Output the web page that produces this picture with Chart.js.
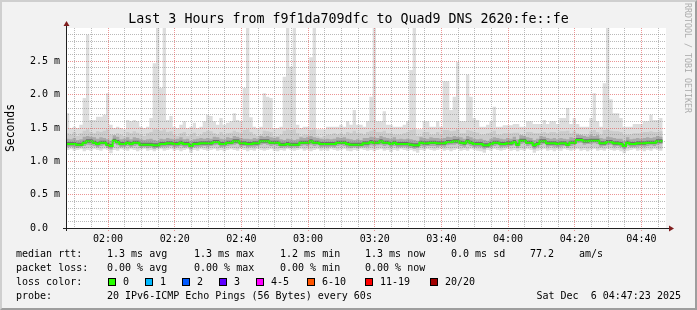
<!DOCTYPE html>
<html><head><meta charset="utf-8">
<script src="https://cdn.jsdelivr.net/npm/chart.js@4.4.1/dist/chart.umd.min.js"></script>
<style>
html,body{margin:0;padding:0;background:#f2f2f2;}
#wrap{position:relative;width:697px;height:310px;overflow:hidden;background:#f2f2f2;font-family:"DejaVu Sans Mono",monospace;color:#000;}
#c{position:absolute;left:0;top:0;}
#title{position:absolute;left:0;top:11px;width:697px;text-align:center;font-size:13.3px;line-height:16px;white-space:pre;}
#ylab{position:absolute;left:-25px;top:121px;width:70px;height:14px;line-height:14px;text-align:center;font-size:11.4px;transform:rotate(-90deg);white-space:pre;}
#wm{position:absolute;left:628px;top:53px;width:120px;height:10px;line-height:10px;text-align:center;font-size:8.3px;color:#acacac;transform:rotate(90deg);white-space:pre;}
.t{position:absolute;white-space:pre;font-size:10px;line-height:12px;height:12px;}
.box{position:absolute;width:8px;height:8px;box-sizing:border-box;border:1px solid #000;}
#frame{position:absolute;left:0;top:0;width:697px;height:310px;box-sizing:border-box;border:2px solid;border-color:#cfcfcf #9e9e9e #9e9e9e #cfcfcf;pointer-events:none;}
</style></head><body>
<div id="wrap">
<canvas id="c" width="697" height="310"></canvas>
<div id="title">Last 3 Hours from f9f1da709dfc to Quad9 DNS 2620:fe::fe</div>
<div id="ylab">Seconds</div>
<div id="wm">RRDTOOL / TOBI OETIKER</div>
<div id="legend"></div>
<div id="frame"></div>
</div>
<script>
// ---- data (milliseconds), one value per minute starting 01:47:23 ----
const windowStartMin = -(12 + 37/60);   // 01:47:23 relative to 02:00
const windowEndMin = 167 + 23/60;       // 04:47:23 relative to 02:00
const stepMin = 1;

const medianRtt = [
1.26,1.26,1.26,1.25,1.25,1.28,1.30,1.30,1.28,1.26,
1.28,1.28,1.25,1.23,1.31,1.29,1.26,1.26,1.28,1.26,
1.28,1.28,1.25,1.25,1.25,1.25,1.24,1.24,1.26,1.26,
1.27,1.27,1.26,1.26,1.28,1.26,1.26,1.23,1.26,1.26,
1.27,1.27,1.27,1.27,1.29,1.29,1.26,1.26,1.28,1.28,
1.30,1.30,1.27,1.27,1.26,1.26,1.27,1.27,1.30,1.30,
1.30,1.28,1.28,1.28,1.25,1.25,1.26,1.25,1.25,1.25,
1.28,1.28,1.28,1.30,1.28,1.28,1.26,1.26,1.26,1.26,
1.26,1.28,1.28,1.28,1.26,1.25,1.25,1.25,1.25,1.27,
1.27,1.29,1.28,1.28,1.30,1.28,1.28,1.26,1.28,1.26,
1.26,1.26,1.26,1.25,1.24,1.24,1.28,1.27,1.27,1.28,
1.28,1.27,1.27,1.27,1.29,1.29,1.30,1.30,1.28,1.27,
1.30,1.28,1.26,1.26,1.26,1.24,1.24,1.26,1.28,1.28,
1.26,1.26,1.27,1.27,1.29,1.25,1.31,1.31,1.28,1.28,
1.24,1.26,1.30,1.30,1.27,1.27,1.27,1.26,1.27,1.27,
1.25,1.28,1.28,1.32,1.32,1.30,1.30,1.31,1.31,1.31,
1.27,1.27,1.29,1.29,1.27,1.27,1.26,1.23,1.28,1.26,
1.26,1.27,1.27,1.27,1.28,1.28,1.28,1.30,1.30];

const maxRtt = [
1.72,1.50,1.52,1.50,1.55,1.95,2.90,1.62,1.62,1.67,
1.67,1.70,2.02,1.55,1.50,1.52,1.50,1.48,1.62,1.60,
1.62,1.60,1.52,1.50,1.52,1.65,2.47,3.10,2.10,3.10,
1.62,1.68,1.52,1.50,1.55,1.60,1.50,1.52,1.58,1.50,
1.52,1.60,1.70,1.68,1.60,1.55,1.65,1.55,1.58,1.60,
1.72,1.62,1.60,2.10,3.10,1.66,1.52,1.50,1.52,2.02,
1.97,1.95,1.50,1.50,1.52,2.27,3.10,2.42,3.10,1.55,
1.50,1.52,1.52,2.56,3.10,1.48,1.48,1.48,1.52,1.52,
1.52,1.52,1.55,1.52,1.60,1.55,1.77,1.55,1.55,1.52,
1.60,1.97,3.10,1.60,1.60,1.75,1.55,1.55,1.52,1.52,
1.52,1.55,1.60,2.37,3.10,1.48,1.48,1.60,1.60,1.52,
1.52,1.60,1.52,2.20,2.20,1.77,1.97,2.49,1.60,1.60,
2.30,1.97,1.65,1.62,1.52,1.52,1.55,1.60,1.82,1.52,
1.52,1.54,1.54,1.54,1.56,1.56,1.52,1.52,1.60,1.60,
1.56,1.56,1.56,1.62,1.56,1.60,1.60,1.56,1.65,1.65,
1.80,1.56,1.65,1.56,1.52,1.52,1.52,1.65,2.02,1.60,
1.52,2.17,3.00,1.93,1.72,1.72,1.65,1.52,1.52,1.52,
1.56,1.56,1.56,1.60,1.60,1.70,1.62,1.62,1.65];

const minRtt = [
1.17,1.18,1.16,1.17,1.18,1.15,1.17,1.16,1.18,1.17,
1.16,1.18,1.17,1.12,1.17,1.16,1.18,1.17,1.16,1.18,
1.17,1.15,1.17,1.18,1.16,1.17,1.15,1.17,1.18,1.16,
1.17,1.18,1.16,1.17,1.15,1.17,1.18,1.13,1.17,1.16,
1.18,1.17,1.16,1.17,1.18,1.16,1.17,1.15,1.17,1.18,
1.17,1.16,1.18,1.17,1.15,1.17,1.16,1.18,1.17,1.16,
1.17,1.18,1.16,1.15,1.17,1.16,1.18,1.17,1.16,1.17,
1.18,1.16,1.17,1.15,1.17,1.18,1.16,1.17,1.16,1.18,
1.17,1.16,1.17,1.18,1.16,1.15,1.17,1.16,1.18,1.17,
1.16,1.17,1.15,1.17,1.18,1.16,1.17,1.14,1.17,1.16,
1.18,1.17,1.16,1.17,1.15,1.13,1.17,1.16,1.18,1.17,
1.16,1.17,1.18,1.16,1.17,1.15,1.17,1.18,1.16,1.17,
1.16,1.18,1.17,1.16,1.15,1.13,1.17,1.16,1.18,1.17,
1.16,1.17,1.18,1.16,1.17,1.15,1.17,1.16,1.18,1.17,
1.13,1.16,1.17,1.18,1.16,1.17,1.15,1.17,1.16,1.18,
1.17,1.16,1.17,1.18,1.16,1.17,1.15,1.17,1.18,1.16,
1.17,1.16,1.18,1.17,1.16,1.17,1.15,1.12,1.16,1.17,
1.18,1.16,1.17,1.15,1.17,1.16,1.18,1.17,1.16];

const upperSmoke = [
1.42,1.40,1.44,1.38,1.42,1.46,1.48,1.44,1.42,1.45,
1.44,1.46,1.48,1.40,1.38,1.42,1.40,1.38,1.44,1.42,
1.45,1.43,1.40,1.38,1.42,1.44,1.48,1.48,1.46,1.48,
1.44,1.45,1.40,1.38,1.42,1.44,1.38,1.40,1.43,1.38,
1.40,1.44,1.46,1.45,1.42,1.40,1.44,1.40,1.42,1.43,
1.46,1.44,1.42,1.47,1.48,1.44,1.40,1.38,1.40,1.46,
1.45,1.44,1.38,1.38,1.40,1.46,1.48,1.47,1.48,1.42,
1.38,1.40,1.40,1.47,1.48,1.38,1.36,1.38,1.40,1.40,
1.42,1.40,1.42,1.40,1.44,1.42,1.46,1.42,1.42,1.40,
1.44,1.46,1.48,1.44,1.44,1.46,1.42,1.42,1.40,1.40,
1.40,1.42,1.44,1.47,1.48,1.38,1.38,1.44,1.44,1.40,
1.40,1.44,1.40,1.47,1.47,1.45,1.46,1.48,1.42,1.42,
1.47,1.46,1.44,1.43,1.40,1.40,1.42,1.43,1.46,1.40,
1.40,1.42,1.42,1.42,1.43,1.43,1.40,1.40,1.44,1.44,
1.42,1.42,1.42,1.44,1.42,1.44,1.44,1.42,1.45,1.45,
1.46,1.42,1.45,1.42,1.40,1.40,1.40,1.45,1.47,1.44,
1.40,1.47,1.48,1.46,1.45,1.45,1.44,1.40,1.40,1.40,
1.42,1.42,1.42,1.44,1.44,1.45,1.44,1.44,1.45];

const lowerSmoke = [
1.20,1.21,1.19,1.20,1.21,1.19,1.20,1.20,1.21,1.20,
1.19,1.21,1.20,1.17,1.20,1.19,1.21,1.20,1.19,1.21,
1.20,1.19,1.20,1.21,1.19,1.20,1.18,1.20,1.21,1.19,
1.20,1.21,1.19,1.20,1.19,1.20,1.21,1.17,1.20,1.19,
1.21,1.20,1.19,1.20,1.21,1.19,1.20,1.19,1.20,1.21,
1.20,1.19,1.21,1.20,1.19,1.20,1.19,1.21,1.20,1.19,
1.20,1.21,1.19,1.19,1.20,1.19,1.21,1.20,1.19,1.20,
1.21,1.19,1.20,1.19,1.20,1.21,1.19,1.20,1.19,1.21,
1.20,1.19,1.20,1.21,1.19,1.19,1.20,1.19,1.21,1.20,
1.19,1.20,1.19,1.20,1.21,1.19,1.20,1.18,1.20,1.19,
1.21,1.20,1.19,1.20,1.19,1.17,1.20,1.19,1.21,1.20,
1.19,1.20,1.21,1.19,1.20,1.19,1.20,1.21,1.19,1.20,
1.19,1.21,1.20,1.19,1.19,1.17,1.20,1.19,1.21,1.20,
1.19,1.20,1.21,1.19,1.20,1.19,1.20,1.19,1.21,1.20,
1.17,1.19,1.20,1.21,1.19,1.20,1.19,1.20,1.19,1.21,
1.20,1.19,1.20,1.21,1.19,1.20,1.19,1.20,1.21,1.19,
1.20,1.19,1.21,1.20,1.19,1.20,1.19,1.17,1.19,1.20,
1.21,1.19,1.20,1.19,1.20,1.19,1.21,1.20,1.19];

const upperCore = [
1.34,1.33,1.35,1.32,1.33,1.37,1.38,1.37,1.36,1.34,
1.36,1.35,1.33,1.31,1.39,1.37,1.33,1.34,1.36,1.33,
1.36,1.35,1.33,1.32,1.33,1.34,1.32,1.31,1.34,1.33,
1.35,1.34,1.33,1.34,1.36,1.33,1.34,1.31,1.33,1.34,
1.35,1.34,1.35,1.34,1.37,1.36,1.34,1.33,1.36,1.35,
1.38,1.37,1.35,1.34,1.34,1.33,1.35,1.34,1.38,1.37,
1.38,1.36,1.35,1.36,1.33,1.32,1.34,1.33,1.32,1.33,
1.36,1.35,1.36,1.38,1.36,1.35,1.34,1.33,1.34,1.33,
1.34,1.36,1.35,1.36,1.34,1.33,1.32,1.33,1.32,1.35,
1.35,1.37,1.36,1.35,1.38,1.36,1.35,1.34,1.36,1.33,
1.34,1.33,1.34,1.33,1.32,1.31,1.36,1.35,1.34,1.36,
1.35,1.35,1.34,1.35,1.37,1.36,1.38,1.37,1.36,1.34,
1.38,1.36,1.34,1.33,1.34,1.32,1.31,1.34,1.36,1.35,
1.34,1.33,1.35,1.34,1.37,1.33,1.39,1.38,1.36,1.35,
1.32,1.34,1.38,1.37,1.35,1.34,1.35,1.33,1.35,1.34,
1.33,1.36,1.35,1.40,1.39,1.38,1.37,1.39,1.38,1.39,
1.35,1.34,1.37,1.36,1.35,1.34,1.34,1.31,1.36,1.33,
1.34,1.35,1.34,1.35,1.36,1.35,1.36,1.38,1.37];

const lowerCore = [
1.21,1.22,1.21,1.20,1.21,1.23,1.25,1.24,1.23,1.21,
1.23,1.24,1.20,1.18,1.26,1.24,1.21,1.22,1.23,1.21,
1.23,1.24,1.20,1.21,1.20,1.21,1.19,1.20,1.21,1.22,
1.22,1.23,1.21,1.22,1.23,1.21,1.22,1.18,1.21,1.22,
1.22,1.23,1.22,1.23,1.24,1.25,1.21,1.22,1.23,1.24,
1.25,1.26,1.22,1.23,1.21,1.22,1.22,1.23,1.25,1.26,
1.25,1.23,1.24,1.23,1.20,1.21,1.21,1.20,1.21,1.20,
1.23,1.24,1.23,1.25,1.23,1.24,1.21,1.22,1.21,1.22,
1.21,1.23,1.24,1.23,1.21,1.20,1.21,1.20,1.21,1.22,
1.22,1.24,1.23,1.24,1.25,1.23,1.24,1.21,1.23,1.21,
1.21,1.22,1.21,1.20,1.19,1.20,1.23,1.22,1.23,1.23,
1.23,1.22,1.23,1.22,1.24,1.25,1.25,1.26,1.23,1.22,
1.25,1.23,1.21,1.22,1.21,1.19,1.20,1.21,1.23,1.24,
1.21,1.22,1.22,1.23,1.24,1.20,1.26,1.27,1.23,1.24,
1.19,1.21,1.25,1.26,1.22,1.23,1.22,1.21,1.22,1.23,
1.20,1.23,1.24,1.27,1.28,1.25,1.26,1.26,1.27,1.26,
1.22,1.23,1.24,1.25,1.22,1.23,1.21,1.18,1.23,1.21,
1.21,1.22,1.23,1.22,1.23,1.24,1.23,1.25,1.26];

const upperInner = [
1.29,1.29,1.29,1.28,1.28,1.31,1.33,1.33,1.31,1.29,
1.31,1.31,1.28,1.26,1.34,1.32,1.29,1.29,1.31,1.29,
1.31,1.31,1.28,1.28,1.28,1.28,1.27,1.27,1.29,1.29,
1.30,1.30,1.29,1.29,1.31,1.29,1.29,1.26,1.29,1.29,
1.30,1.30,1.30,1.30,1.32,1.32,1.29,1.29,1.31,1.31,
1.33,1.33,1.30,1.30,1.29,1.29,1.30,1.30,1.33,1.33,
1.33,1.31,1.31,1.31,1.28,1.28,1.29,1.28,1.28,1.28,
1.31,1.31,1.31,1.33,1.31,1.31,1.29,1.29,1.29,1.29,
1.29,1.31,1.31,1.31,1.29,1.28,1.28,1.28,1.28,1.30,
1.30,1.32,1.31,1.31,1.33,1.31,1.31,1.29,1.31,1.29,
1.29,1.29,1.29,1.28,1.27,1.27,1.31,1.30,1.30,1.31,
1.31,1.30,1.30,1.30,1.32,1.32,1.33,1.33,1.31,1.30,
1.33,1.31,1.29,1.29,1.29,1.27,1.27,1.29,1.31,1.31,
1.29,1.29,1.30,1.30,1.32,1.28,1.34,1.34,1.31,1.31,
1.27,1.29,1.33,1.33,1.30,1.30,1.30,1.29,1.30,1.30,
1.28,1.31,1.31,1.35,1.35,1.33,1.33,1.34,1.34,1.34,
1.30,1.30,1.32,1.32,1.30,1.30,1.29,1.26,1.31,1.29,
1.29,1.30,1.30,1.30,1.31,1.31,1.31,1.33,1.33];

const lowerInner = [
1.24,1.24,1.24,1.23,1.23,1.26,1.28,1.28,1.26,1.24,
1.26,1.26,1.23,1.21,1.29,1.27,1.24,1.24,1.26,1.24,
1.26,1.26,1.23,1.23,1.23,1.23,1.22,1.22,1.24,1.24,
1.25,1.25,1.24,1.24,1.26,1.24,1.24,1.21,1.24,1.24,
1.25,1.25,1.25,1.25,1.27,1.27,1.24,1.24,1.26,1.26,
1.28,1.28,1.25,1.25,1.24,1.24,1.25,1.25,1.28,1.28,
1.28,1.26,1.26,1.26,1.23,1.23,1.24,1.23,1.23,1.23,
1.26,1.26,1.26,1.28,1.26,1.26,1.24,1.24,1.24,1.24,
1.24,1.26,1.26,1.26,1.24,1.23,1.23,1.23,1.23,1.25,
1.25,1.27,1.26,1.26,1.28,1.26,1.26,1.24,1.26,1.24,
1.24,1.24,1.24,1.23,1.22,1.22,1.26,1.25,1.25,1.26,
1.26,1.25,1.25,1.25,1.27,1.27,1.28,1.28,1.26,1.25,
1.28,1.26,1.24,1.24,1.24,1.22,1.22,1.24,1.26,1.26,
1.24,1.24,1.25,1.25,1.27,1.23,1.29,1.29,1.26,1.26,
1.22,1.24,1.28,1.28,1.25,1.25,1.25,1.24,1.25,1.25,
1.23,1.26,1.26,1.30,1.30,1.28,1.28,1.29,1.29,1.29,
1.25,1.25,1.27,1.27,1.25,1.25,1.24,1.21,1.26,1.24,
1.24,1.25,1.25,1.25,1.26,1.26,1.26,1.28,1.28];

// ---- axis labels & legend texts ----
const xTickLabels = ['02:00','02:20','02:40','03:00','03:20','03:40','04:00','04:20','04:40'];
const xMajorStep = 20, xMinorStep = 5;          // minutes
const yTickLabels = ['0.0  ','0.5 m','1.0 m','1.5 m','2.0 m','2.5 m'];
const yMajorStep = 0.5, yMinorStep = 0.1, yMax = 3.0;
const rttStats = ['1.3 ms avg','1.3 ms max','1.2 ms min','1.3 ms now','0.0 ms sd','77.2','am/s'];
const lossStats = ['0.00 % avg','0.00 % max','0.00 % min','0.00 % now'];
const lossLabels = ['0','1','2','3','4-5','6-10','11-19','20/20'];
const lossColors = ['#26ff00','#00b8ff','#0059ff','#5e00ff','#ff00ff','#ff5500','#ff0000','#a10000'];
const probeText = '20 IPv6-ICMP Echo Pings (56 Bytes) every 60s';
const stampText = 'Sat Dec  6 04:47:23 2025';

// ---- legend (HTML text) ----
(function(){
  const L = document.getElementById('legend');
  function put(txt, x, yc){ const d=document.createElement('div'); d.className='t'; d.textContent=txt; d.style.left=x+'px'; d.style.top=(yc-6)+'px'; L.appendChild(d); return d; }
  const colX = [107,194,280,365,451,530,579];
  put('median rtt:',16,254);
  rttStats.forEach((s,i)=>put(s,colX[i],254));
  put('packet loss:',16,268);
  lossStats.forEach((s,i)=>put(s,colX[i],268));
  put('loss color:',16,282);
  const boxX = [108,145,182,219,256,307,365,430];
  lossLabels.forEach((s,i)=>{
    const b=document.createElement('div'); b.className='box'; b.style.left=boxX[i]+'px'; b.style.top='278px'; b.style.background=lossColors[i]; L.appendChild(b);
    put(s, boxX[i]+15, 282);
  });
  put('probe:',16,296);
  put(probeText,107,296);
  const st = put(stampText,0,296);
  st.style.left=''; st.style.right=(697-681)+'px';
})();

// ---- chart ----
function pts(arr){
  const p = arr.map((v,i)=>({x: windowStartMin + i*stepMin, y: v}));
  p.push({x: windowStartMin + arr.length*stepMin, y: arr[arr.length-1]});
  return p;
}
function band(data, fill, color, order){
  return {data: pts(data), stepped:'before', pointRadius:0, borderWidth:0, borderColor:'transparent',
          backgroundColor: color, fill: fill, order: order};
}
const MINOR = 'rgba(140,140,140,0.6)';
const MAJOR = 'rgba(222,79,79,0.6)';
const FONT = {family:'DejaVu Sans Mono', size:10};

function xTicks(major){
  return function(s){
    const t=[];
    const first = Math.ceil(windowStartMin/xMinorStep)*xMinorStep;
    for(let k=first; k<=windowEndMin; k+=xMinorStep){
      const isMajor = k % xMajorStep === 0;
      if(isMajor === major) t.push({value:k});
    }
    s.ticks=t;
  };
}
function yTicks(major){
  return function(s){
    const t=[];
    const n = Math.round(yMax/yMinorStep);
    const per = Math.round(yMajorStep/yMinorStep);
    for(let k=0; k<n; k++){
      const isMajor = k % per === 0;
      if(isMajor === major) t.push({value:k*yMinorStep});
    }
    s.ticks=t;
  };
}

// crisp, dotted rrdtool-style grid drawn over the smoke, from the scales' ticks
const rrdGrid = {
  id:'rrdgrid',
  afterDatasetsDraw(chart){
    const {ctx, chartArea:a, scales} = chart;
    ctx.save(); ctx.lineWidth=1; ctx.setLineDash([1,1]);
    function vlines(scale, color, ext){
      ctx.strokeStyle=color;
      scale.ticks.forEach(t=>{
        const x=Math.floor(scale.getPixelForValue(t.value))+0.5;
        ctx.beginPath(); ctx.moveTo(x, a.top); ctx.lineTo(x, a.bottom+ext); ctx.stroke();
      });
    }
    function hlines(scale, color){
      ctx.strokeStyle=color;
      scale.ticks.forEach(t=>{
        if(t.value===0) return;
        const y=Math.floor(scale.getPixelForValue(t.value))+0.5;
        ctx.beginPath(); ctx.moveTo(a.left, y); ctx.lineTo(a.right, y); ctx.stroke();
      });
    }
    vlines(scales.xMinor, MINOR, 0);
    hlines(scales.yMinor, MINOR);
    vlines(scales.x, MAJOR, 4);
    hlines(scales.y, MAJOR);
    ctx.restore();
  }
};

const decor = {
  id:'decor',
  beforeDraw(chart){
    const {ctx, chartArea:a} = chart;
    ctx.save(); ctx.fillStyle='#ffffff';
    ctx.fillRect(a.left, a.top, a.right-a.left, a.bottom-a.top);
    ctx.restore();
  },
  afterDraw(chart){
    const {ctx, chartArea:a} = chart;
    const ax = Math.round(a.left)+0.5, ay = Math.round(a.bottom)+0.5;
    ctx.save();
    ctx.strokeStyle='#1f1f1f'; ctx.lineWidth=1;
    ctx.beginPath();
    ctx.moveTo(a.left-3, ay); ctx.lineTo(a.right+3, ay);
    ctx.moveTo(ax, a.bottom+3); ctx.lineTo(ax, a.top-3);
    ctx.stroke();
    ctx.fillStyle='#801f1f';
    ctx.beginPath(); ctx.moveTo(ax-3, a.top-2); ctx.lineTo(ax+3, a.top-2); ctx.lineTo(ax, a.top-7); ctx.closePath(); ctx.fill();
    ctx.beginPath(); ctx.moveTo(a.right+3, ay-3); ctx.lineTo(a.right+3, ay+3); ctx.lineTo(a.right+8, ay); ctx.closePath(); ctx.fill();
    ctx.restore();
  }
};

const HIDDEN_GRID = {color:'transparent', drawTicks:true, tickLength:3, tickColor:'transparent'};

new Chart(document.getElementById('c'), {
  type:'line',
  data:{ datasets:[
    band(minRtt, false, 'transparent', 10),
    band(maxRtt, '-1', '#dddddd', 9),
    band(lowerSmoke, false, 'transparent', 8),
    band(upperSmoke, '-1', '#cccccc', 7),
    band(lowerCore, false, 'transparent', 6),
    band(upperCore, '-1', '#a9a9a9', 5),
    band(lowerInner, false, 'transparent', 4),
    band(upperInner, '-1', '#6e6e6e', 3),
    {data: pts(medianRtt), stepped:'before', pointRadius:0, borderWidth:2, borderColor:'#26ff00', fill:false, order:0}
  ]},
  options:{
    responsive:false, animation:false, devicePixelRatio:1,
    layout:{padding:{top:28, right:31, left:0, bottom:0}},
    plugins:{legend:{display:false}, tooltip:{enabled:false}},
    scales:{
      xMinor:{type:'linear', position:'bottom', min:windowStartMin, max:windowEndMin,
        afterBuildTicks: xTicks(false),
        afterFit(s){ s.height = 0; },
        border:{display:false},
        grid:{color:'transparent', drawTicks:false},
        ticks:{display:false, autoSkip:false}
      },
      x:{type:'linear', position:'bottom', min:windowStartMin, max:windowEndMin,
        afterBuildTicks: xTicks(true),
        afterFit(s){ s.height = 82; },
        border:{display:false},
        grid:HIDDEN_GRID,
        ticks:{autoSkip:false, maxRotation:0, padding:2, color:'#000', font:FONT,
               callback:v=> xTickLabels[Math.round(v/xMajorStep)] ?? ''}
      },
      yMinor:{type:'linear', position:'left', min:0, max:yMax,
        afterBuildTicks: yTicks(false),
        afterFit(s){ s.width = 0; },
        border:{display:false},
        grid:{color:'transparent', drawTicks:false},
        ticks:{display:false, autoSkip:false}
      },
      y:{type:'linear', position:'left', min:0, max:yMax,
        afterBuildTicks: yTicks(true),
        afterFit(s){ s.width = 66; },
        border:{display:false},
        grid:HIDDEN_GRID,
        ticks:{autoSkip:false, padding:3, color:'#000', font:FONT,
               callback:v=> yTickLabels[Math.round(v/yMajorStep)] ?? ''}
      }
    }
  },
  plugins:[rrdGrid, decor]
});
</script>
</body></html>
